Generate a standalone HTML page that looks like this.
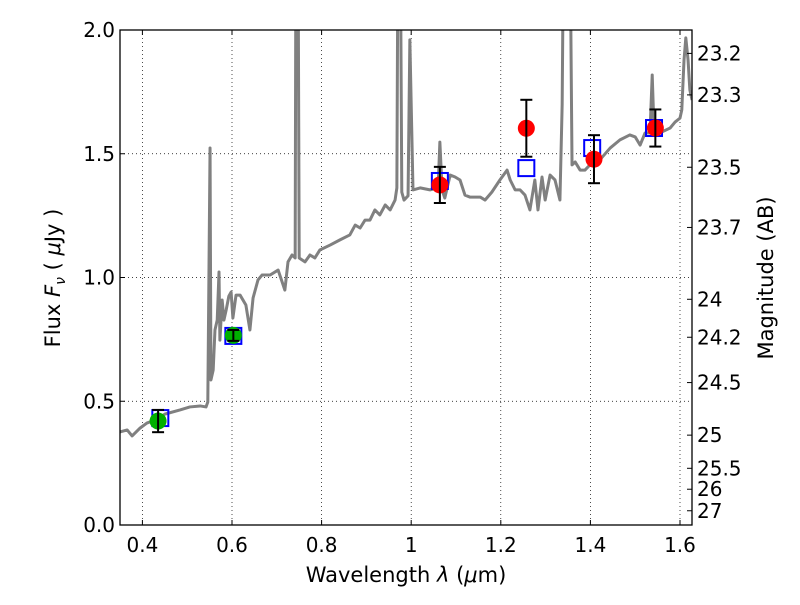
<!DOCTYPE html>
<html><head><meta charset="utf-8"><style>
html,body{margin:0;padding:0;background:#fff;}
svg text{font-family:"DejaVu Sans","Liberation Sans",sans-serif;fill:#000;}
</style></head><body>
<svg id="chart" width="800" height="600" xmlns="http://www.w3.org/2000/svg">
<defs><clipPath id="clip"><rect x="120" y="30" width="572" height="495"/></clipPath></defs>
<rect x="0" y="0" width="800" height="600" fill="#fff"/>
<g id="grid"></g>
<g id="series" clip-path="url(#clip)"></g>
<g id="axes"></g>
</svg>
<script>
const xTicks=[0.4,0.6,0.8,1.0,1.2,1.4,1.6];
const xTickLabels=["0.4","0.6","0.8","1","1.2","1.4","1.6"];
const yTicks=[0,0.5,1.0,1.5,2.0];
const yTickLabels=["0.0","0.5","1.0","1.5","2.0"];
const magTicks=[23.2,23.3,23.5,23.7,24,24.2,24.5,25,25.5,26,27];
const magTickLabels=["23.2","23.3","23.5","23.7","24","24.2","24.5","25","25.5","26","27"];
const specWave=[0.350,0.366,0.377,0.395,0.410,0.428,0.450,0.484,0.506,0.529,0.542,0.546,0.551,0.553,0.558,0.562,0.567,0.571,0.573,0.578,0.582,0.587,0.593,0.598,0.602,0.609,0.618,0.631,0.640,0.647,0.658,0.667,0.685,0.703,0.718,0.725,0.734,0.741,0.743,0.747,0.750,0.763,0.774,0.785,0.796,0.819,0.841,0.863,0.875,0.886,0.897,0.908,0.919,0.930,0.942,0.953,0.964,0.968,0.971,0.975,0.979,0.984,0.993,0.997,1.004,1.020,1.042,1.060,1.064,1.069,1.075,1.087,1.098,1.109,1.120,1.131,1.154,1.165,1.180,1.198,1.214,1.221,1.232,1.243,1.254,1.265,1.276,1.283,1.292,1.299,1.310,1.321,1.332,1.337,1.341,1.348,1.354,1.359,1.366,1.377,1.388,1.399,1.421,1.444,1.466,1.488,1.500,1.511,1.522,1.533,1.538,1.542,1.555,1.578,1.589,1.600,1.604,1.609,1.613,1.618,1.622,1.627];
const specFlux=[0.376,0.384,0.360,0.392,0.412,0.424,0.448,0.465,0.477,0.481,0.477,0.497,1.523,0.586,0.626,0.788,0.828,1.022,0.747,0.909,0.828,0.869,0.925,0.941,0.836,0.929,0.929,0.889,0.788,0.917,0.990,1.010,1.010,1.030,0.949,1.063,1.091,1.079,2.6,2.6,1.079,1.063,1.091,1.079,1.111,1.131,1.152,1.172,1.212,1.200,1.232,1.232,1.273,1.253,1.293,1.273,1.313,1.362,2.6,2.6,1.345,1.313,1.330,1.960,1.354,1.362,1.354,1.362,1.547,1.354,1.321,1.414,1.406,1.394,1.333,1.325,1.325,1.313,1.345,1.394,1.434,1.394,1.354,1.354,1.333,1.273,1.394,1.273,1.406,1.313,1.414,1.394,1.313,1.700,2.6,2.6,2.5,1.455,1.467,1.434,1.434,1.455,1.475,1.523,1.556,1.576,1.568,1.535,1.584,1.584,1.818,1.596,1.584,1.604,1.628,1.644,1.677,1.879,1.968,1.879,1.758,1.717];
const greenWave=[0.435,0.603];
const greenFlux=[0.42,0.766];
const greenErr=[0.045,0.022];
const redWave=[1.064,1.257,1.408,1.545];
const redFlux=[1.374,1.603,1.478,1.604];
const redErr=[0.073,0.115,0.097,0.075];
const modelWave=[0.440,0.603,1.064,1.257,1.404,1.542];
const modelFlux=[0.432,0.764,1.390,1.442,1.523,1.604];

const L=120,R=692,T=30,B=525,X0=0.35,X1=1.6268,Y0=0,Y1=2.0;
const sx=v=>L+(v-X0)/(X1-X0)*(R-L);
const sy=v=>B-(v-Y0)/(Y1-Y0)*(B-T);
const magToY=m=>sy(Math.pow(10,(23.9-m)/2.5));
const NS="http://www.w3.org/2000/svg";
function mk(tag,parent,attrs){const e=document.createElementNS(NS,tag);for(const k in attrs)e.setAttribute(k,attrs[k]);parent.appendChild(e);return e;}
const grid=document.getElementById('grid'),series=document.getElementById('series'),axes=document.getElementById('axes');

xTicks.forEach((t,i)=>{
  const x=sx(t);
  const g=mk('line',grid,{x1:x,x2:x,y1:T,y2:B,stroke:'#000','stroke-width':0.7,'stroke-dasharray':'1,3'});
  
  
  mk('line',axes,{x1:x,x2:x,y1:B,y2:B-5,stroke:'#000'});
  mk('line',axes,{x1:x,x2:x,y1:T,y2:T+5,stroke:'#000'});
  const tx=mk('text',axes,{x:x,y:B+27,'font-size':20,'text-anchor':'middle'});
  tx.textContent=xTickLabels[i];
  
  
});
yTicks.forEach((t,i)=>{
  const y=sy(t);
  const g=mk('line',grid,{x1:L,x2:R,y1:y,y2:y,stroke:'#000','stroke-width':0.7,'stroke-dasharray':'1,3'});
  
  
  mk('line',axes,{x1:L,x2:L+5,y1:y,y2:y,stroke:'#000'});
  const tx=mk('text',axes,{x:L-5,y:y+7,'font-size':20,'text-anchor':'end'});
  tx.textContent=yTickLabels[i];
  
  
});
magTicks.forEach((m,i)=>{
  const y=magToY(m);
  mk('line',axes,{x1:R,x2:R-5,y1:y,y2:y,stroke:'#000'});
  const tx=mk('text',axes,{x:R+5,y:y+7,'font-size':20,'text-anchor':'start'});
  tx.textContent=magTickLabels[i];
  
  
});

const pl=mk('polyline',series,{points:specWave.map((w,i)=>sx(w)+','+sy(specFlux[i])).join(' '),fill:'none',stroke:'#808080','stroke-width':3,'stroke-linejoin':'round'});



function errbar(w,f,e){
  const x=sx(w);
  mk('line',series,{x1:x,x2:x,y1:sy(f-e),y2:sy(f+e),stroke:'#000','stroke-width':2});
  mk('line',series,{x1:x-6,x2:x+6,y1:sy(f-e),y2:sy(f-e),stroke:'#000','stroke-width':2});
  mk('line',series,{x1:x-6,x2:x+6,y1:sy(f+e),y2:sy(f+e),stroke:'#000','stroke-width':2});
}
modelWave.forEach((w,i)=>{
  const r=mk('rect',series,{x:sx(w)-8,y:sy(modelFlux[i])-8,width:16,height:16,fill:'none',stroke:'#0000ff','stroke-width':2});
  
  
});
greenWave.forEach((w,i)=>{
  const c=mk('circle',series,{cx:sx(w),cy:sy(greenFlux[i]),r:8.5,fill:'#00b000'});
  
  
  errbar(w,greenFlux[i],greenErr[i]);
});
redWave.forEach((w,i)=>{
  const c=mk('circle',series,{cx:sx(w),cy:sy(redFlux[i]),r:8.5,fill:'#ff0000'});
  
  
  errbar(w,redFlux[i],redErr[i]);
});

const fr=mk('rect',axes,{x:L,y:T,width:R-L,height:B-T,fill:'none',stroke:'#000','stroke-width':1.3});


</script>
<svg style="position:absolute;left:0;top:0" width="800" height="600" xmlns="http://www.w3.org/2000/svg" pointer-events="none">
<text x="406" y="582" font-size="21" text-anchor="middle" style="font-family:'DejaVu Sans',sans-serif">Wavelength  <tspan font-style="italic">λ</tspan> (<tspan font-style="italic">μ</tspan>m)</text>
<text transform="translate(60,278) rotate(-90)" font-size="21" text-anchor="middle" style="font-family:'DejaVu Sans',sans-serif">Flux  <tspan font-style="italic">F</tspan><tspan font-style="italic" font-size="14" dy="5">ν</tspan><tspan dy="-5">  ( </tspan><tspan font-style="italic">μ</tspan>Jy )</text>
<text transform="translate(773,278) rotate(-90)" font-size="21" text-anchor="middle" style="font-family:'DejaVu Sans',sans-serif">Magnitude (AB)</text>
</svg>
</body></html>
